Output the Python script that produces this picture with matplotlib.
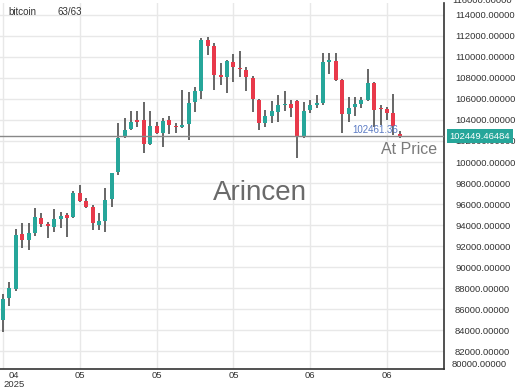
import matplotlib
matplotlib.use("Agg")
import matplotlib.pyplot as plt
import numpy as np

# ---- data ----
opens = [84990, 87080, 87935, 93160, 92590, 93255, 94680, 94110, 93825, 94585,
         94965, 94775, 97055, 96295, 95725, 94015, 94395, 96485, 99050, 102375,
         103135, 103990, 103990, 101710, 103420, 102755, 103990, 103420, 103325, 103610,
         105700, 106745, 111590, 111020, 108265, 108075, 109500, 108930, 108740, 107980,
         105890, 103705, 104370, 104750, 105415, 105510, 105795, 102375, 104940, 105415,
         105605, 109500, 109595, 107790, 104560, 105225, 105510, 105890, 107505, 105130,
         105035, 104655, 102700]
highs = [87460, 88600, 93635, 94200, 94200, 95630, 95155, 94300, 95535, 95250,
         95155, 97245, 97815, 96580, 95915, 95155, 97530, 99000, 103705, 104180,
         104845, 104845, 105700, 104845, 103800, 104180, 104370, 103705, 106840, 106650,
         107125, 111780, 111875, 111305, 109405, 109690, 110260, 110545, 109025, 108170,
         106000, 104940, 105795, 106365, 106745, 105890, 105890, 105700, 105890, 106365,
         110355, 110355, 110355, 107900, 106175, 106175, 106175, 108835, 107600, 105415,
         105225, 106460, 102950]
lows = [83850, 86320, 87745, 91830, 91640, 92970, 93825, 92780, 93350, 93730,
        92875, 94700, 96200, 95630, 93540, 93540, 93350, 95725, 98765, 102280,
        103040, 103325, 100855, 101615, 102660, 101425, 102660, 102755, 103230, 102090,
        104750, 105985, 110165, 106840, 107315, 106555, 107600, 108075, 106745, 104750,
        103040, 103325, 103705, 103800, 104845, 104275, 100380, 102280, 104655, 105130,
        105415, 108360, 107700, 102755, 103800, 104370, 105130, 105800, 103325, 103515,
        103990, 102565, 102300]
closes = [86985, 88030, 93065, 92590, 93255, 94775, 94110, 93920, 94585, 94870,
          94680, 97055, 96295, 95725, 94205, 94395, 96390, 98955, 102280, 103040,
          103800, 103800, 101710, 103420, 102755, 103895, 103515, 103325, 103515, 105605,
          106745, 111590, 111020, 108265, 108075, 109595, 109025, 108835, 108075, 105985,
          103705, 104370, 104845, 105415, 105510, 105130, 102375, 104845, 105415, 105605,
          109500, 109690, 107790, 104560, 105130, 105510, 105890, 107505, 104940, 105035,
          104655, 103420, 102449.46484]

x_tick_pos = [0, 12, 24, 36, 48, 60]
x_tick_labels = ["04\n2025", "05", "05", "05", "06", "06"]
y_ticks = list(range(82000, 116000, 2000))
current_price = 102449.46484
marker_price = 102461.36
title_name = "bitcoin"
title_count = "63/63"
watermark = "Arincen"

UP = "#26a69a"
DOWN = "#e8394a"
WICK = "#5a5a5a"

plt.rcParams['font.family'] = ['Liberation Sans', 'DejaVu Sans']

fig = plt.figure(figsize=(5.2, 3.9), dpi=100)
ax = fig.add_axes([0.0, 1 - 369/390, 444/520, 366/390])

o = np.array(opens); h = np.array(highs); l = np.array(lows); c = np.array(closes)
idx = np.arange(len(o))
colors = [UP if cc >= oo else DOWN for oo, cc in zip(o, c)]

ax.vlines(idx, l, h, color=WICK, linewidth=1.3, zorder=2)
body_bottom = np.minimum(o, c)
body_h = np.maximum(np.abs(c - o), 60)
ax.bar(idx, body_h, bottom=body_bottom, width=0.62, color=colors, linewidth=0, zorder=3)

ax.set_xlim(-0.47, 68.9)
ax.set_ylim(80335, 115105)

ax.set_xticks(x_tick_pos)
ax.set_xticklabels(x_tick_labels)
ax.set_yticks(y_ticks)
ax.set_yticklabels([f"{v:.5f}" for v in y_ticks])
ax.yaxis.tick_right()
ax.tick_params(axis='both', length=0, labelsize=6.8, colors="#333333")
ax.tick_params(axis='y', pad=8)
ax.tick_params(axis='x', pad=1.5)
first = ax.get_xticklabels()[0]
first.set_horizontalalignment('left')
first.set_multialignment('center')
for lab in ax.get_xticklabels():
    lab.set_linespacing(0.95)

ax.grid(True, color="#e8e8e8", linewidth=1.0, zorder=0)
ax.set_axisbelow(True)
for s in ['top', 'left']:
    ax.spines[s].set_visible(False)
ax.spines['right'].set_color("#333333")
ax.spines['bottom'].set_color("#333333")
ax.spines['right'].set_linewidth(1.2)
ax.spines['bottom'].set_linewidth(1.2)

# extra clamped y labels
ax.text(1 + 8/444, 0.012, f"{80000:.5f}", transform=ax.transAxes, ha='left', va='center',
        fontsize=6.8, color="#333333", clip_on=False)
fig.text(452/520, 1 - 0.5/390, f"{116000:.5f}", ha='left', va='center', fontsize=6.8, color="#333333")

# current price line
ax.axhline(current_price, color="#888888", linewidth=1.0, zorder=4)
ax.annotate(f"{current_price:.5f}", xy=(1.0, current_price), xycoords=('axes fraction', 'data'),
            xytext=(4, 0), textcoords='offset points', ha='left', va='center',
            fontsize=6.8, color='white', annotation_clip=False, zorder=6,
            bbox=dict(boxstyle='square,pad=0.25', fc=UP, ec='none'))
ax.annotate("At Price", xy=(1.0, current_price), xycoords=('axes fraction', 'data'),
            xytext=(-5, -4.5), textcoords='offset points', ha='right', va='top',
            fontsize=11.5, color="#7a7a7a")
ax.annotate(f"{marker_price:.2f}", xy=(len(o) - 1, marker_price), xycoords='data',
            xytext=(-1.5, 1), textcoords='offset points', ha='right', va='bottom',
            fontsize=7, color="#5b7bc4", zorder=5)

fig.text(8/520, 1 - 12/390, title_name, ha='left', va='center', fontsize=7, color="#333333")
fig.text(58/520, 1 - 12/390, title_count, ha='left', va='center', fontsize=7, color="#333333")
fig.text(0.5, 1 - 193/390, watermark, ha='center', va='center', fontsize=20,
         color="#5a5a5a", alpha=0.9, zorder=1)

fig.savefig("out.png", dpi=100)
